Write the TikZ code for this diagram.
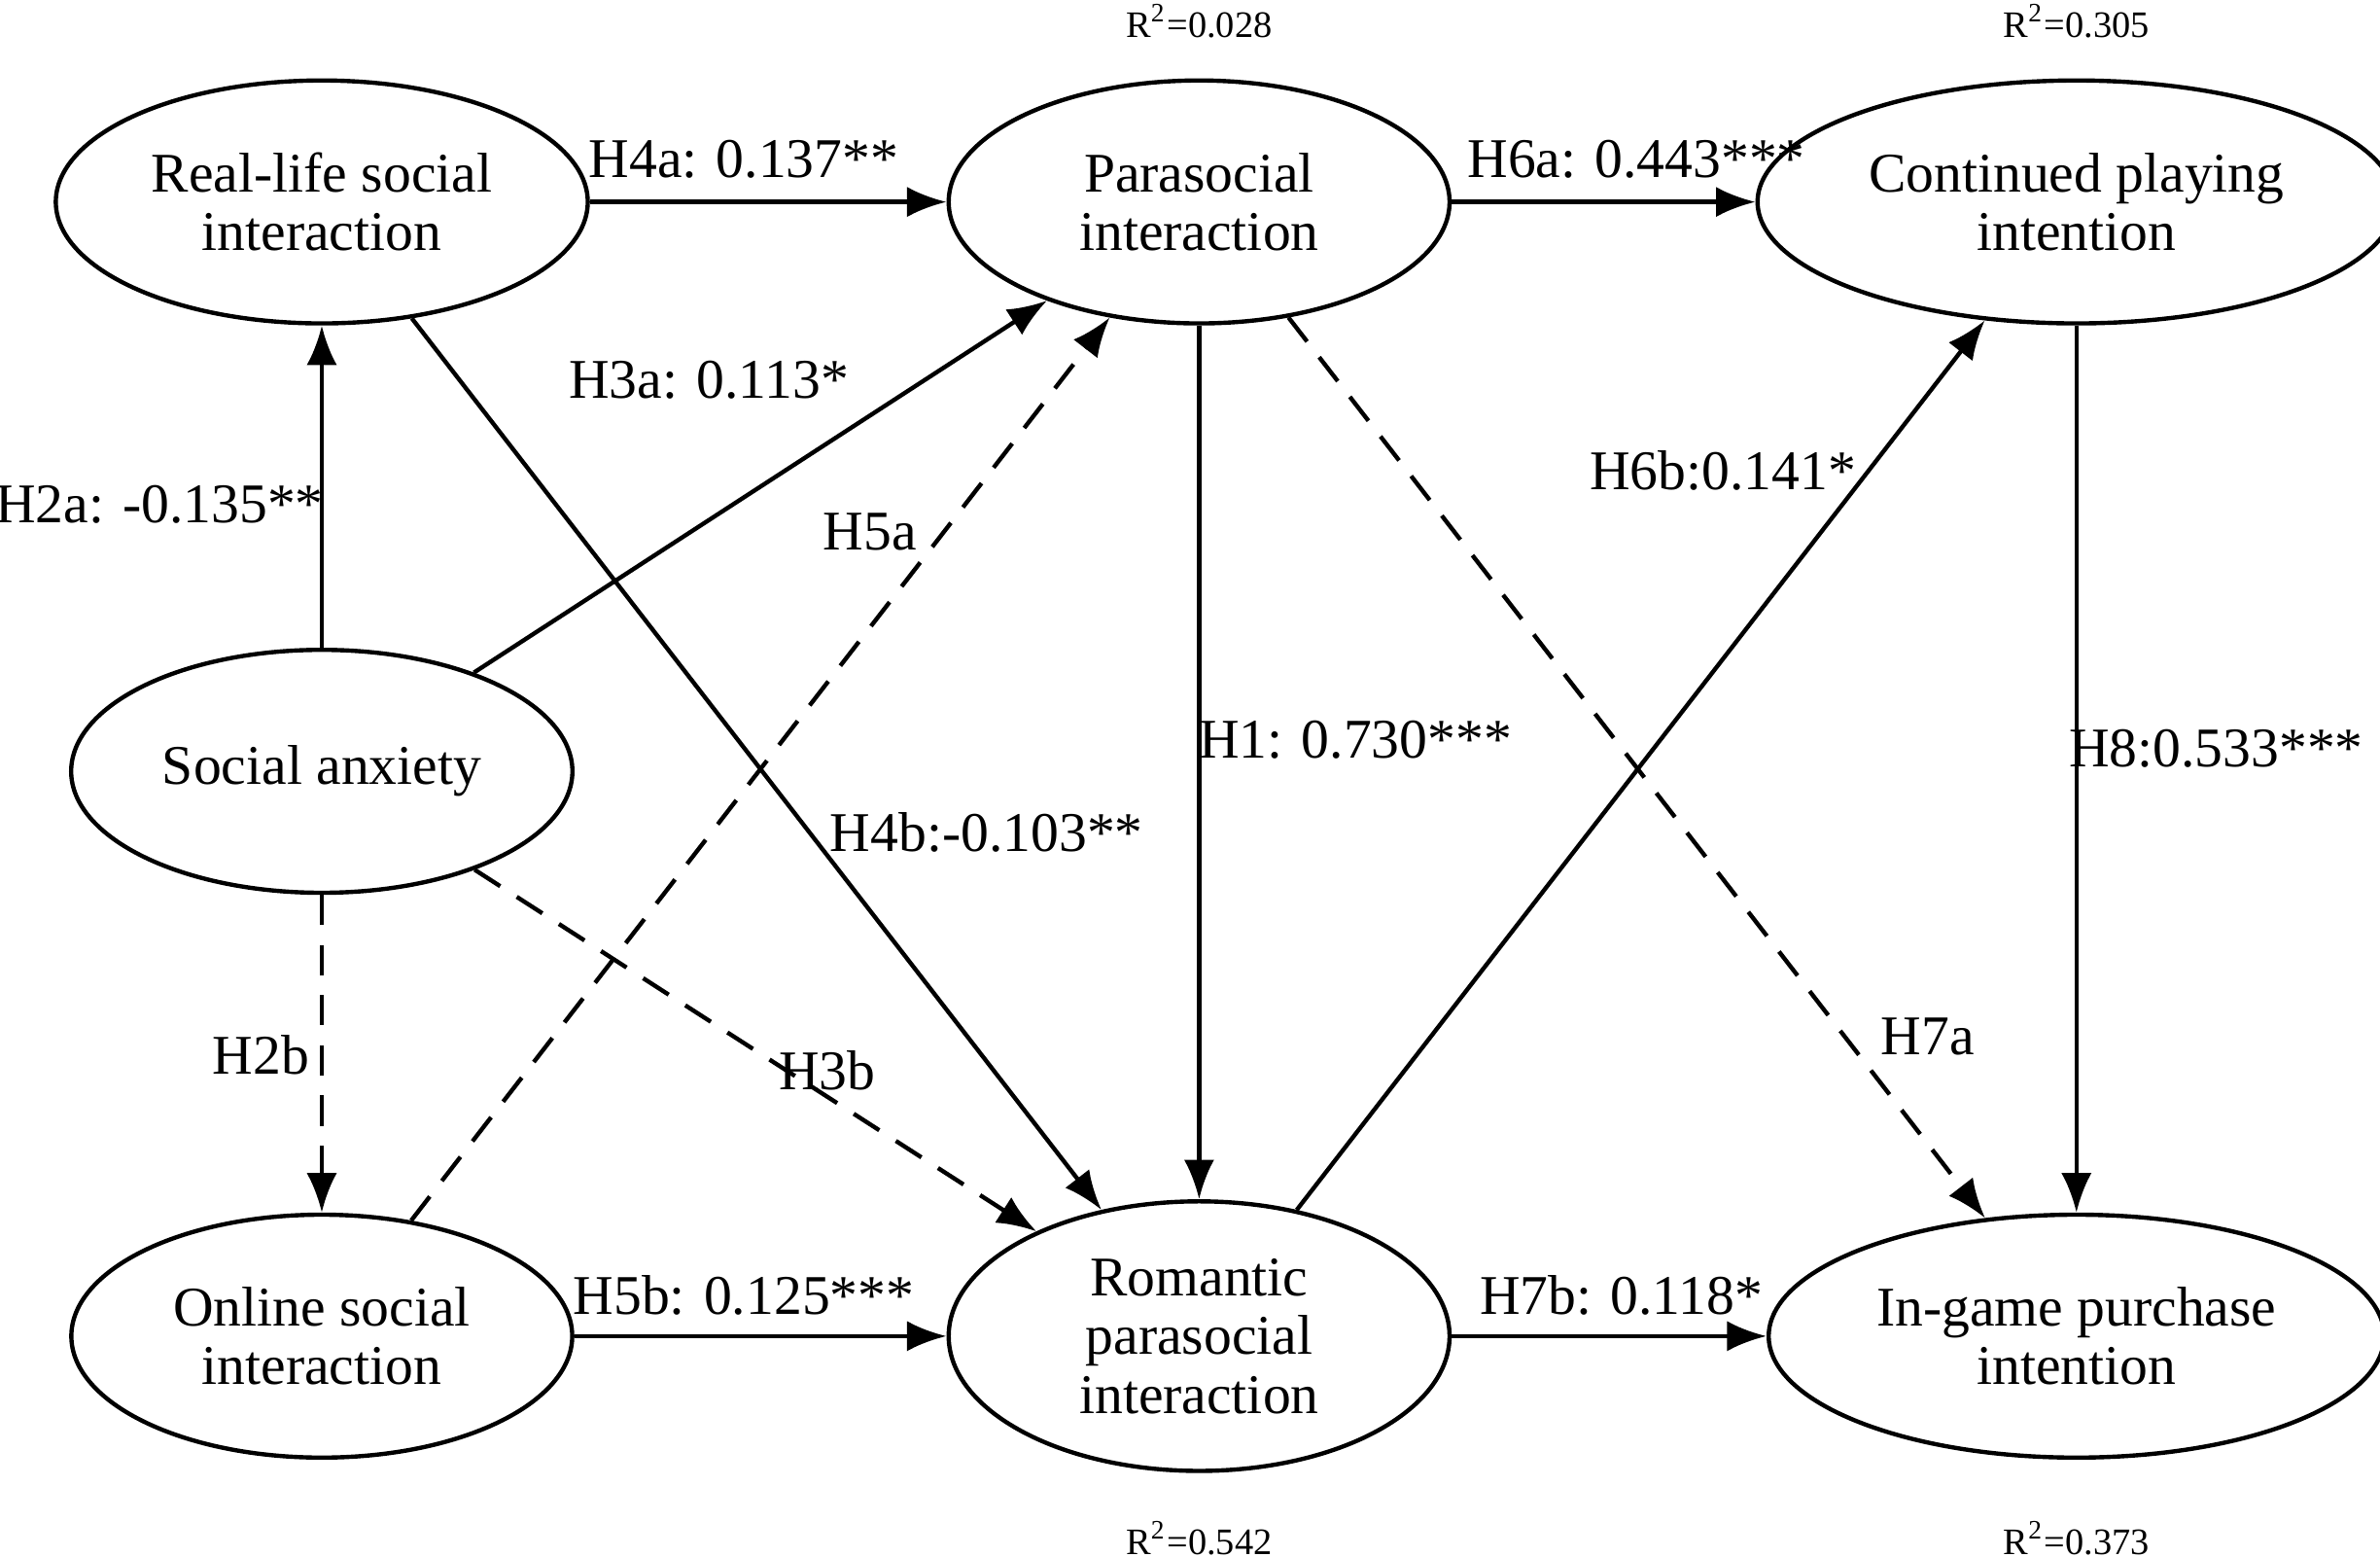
\documentclass[tikz,border=0pt]{standalone}
\usepackage{fontspec}
\setmainfont{Liberation Serif}
\usetikzlibrary{arrows.meta,shapes.geometric}
\tikzstyle{latent}=[ellipse, draw, line width=0.8pt, minimum width=3.3cm, minimum height=1.6cm, align=center, font=\fontsize{10.5}{11}\selectfont]
\tikzstyle{path}=[-{Latex[length=2.6mm,width=2mm]}, line width=0.8pt]
\tikzstyle{ns}=[path, dashed, dash pattern=on 2mm off 1.3mm]
\tikzstyle{lbl}=[font=\fontsize{10.5}{11}\selectfont]
\tikzstyle{rsq}=[font=\fontsize{7}{8}\selectfont]
\begin{document}
\begin{tikzpicture}
  \useasboundingbox (0,0) rectangle (15.68,-10.25);
  \draw (2.12,-1.33) node[latent] (RL) {Real-life social\\interaction};
  \draw (2.12,-5.08) node[latent] (SA) {Social anxiety};
  \draw (2.12,-8.80) node[latent] (OS) {Online social\\interaction};
  \draw (7.90,-1.33) node[latent] (PSI) {Parasocial\\interaction};
  \draw (7.90,-8.80) node[latent] (RPSI) {Romantic\\parasocial\\interaction};
  \draw (13.68,-1.33) node[latent] (CPI) {Continued playing\\intention};
  \draw (13.68,-8.80) node[latent] (IPI) {In-game purchase\\intention};

  \draw[path] (RL) -- (PSI);
  \draw[path] (PSI) -- (CPI);
  \draw[path] (OS) -- (RPSI);
  \draw[path] (RPSI) -- (IPI);
  \draw[path] (SA) -- (RL);
  \draw[path] (SA) -- (PSI);
  \draw[path] (RL) -- (RPSI);
  \draw[path] (PSI) -- (RPSI);
  \draw[path] (RPSI) -- (CPI);
  \draw[path] (CPI) -- (IPI);
  \draw[ns] (SA) -- (OS);
  \draw[ns] (SA) -- (RPSI);
  \draw[ns] (OS) -- (PSI);
  \draw[ns] (PSI) -- (IPI);

  %% Path labels
  \draw (4.90,-1.05) node[lbl] {H4a: 0.137**};
  \draw (10.78,-1.05) node[lbl] {H6a: 0.443***};
  \draw (4.67,-2.50) node[lbl] {H3a: 0.113*};
  \draw (1.05,-3.32) node[lbl] {H2a: -0.135**};
  \draw (5.73,-3.50) node[lbl] {H5a};
  \draw (11.35,-3.10) node[lbl] {H6b:0.141*};
  \draw (8.93,-4.87) node[lbl] {H1: 0.730***};
  \draw (14.60,-4.93) node[lbl] {H8:0.533***};
  \draw (6.50,-5.48) node[lbl] {H4b:-0.103**};
  \draw (1.72,-6.95) node[lbl] {H2b};
  \draw (5.45,-7.05) node[lbl] {H3b};
  \draw (12.70,-6.83) node[lbl] {H7a};
  \draw (4.90,-8.53) node[lbl] {H5b: 0.125***};
  \draw (10.68,-8.53) node[lbl] {H7b: 0.118*};

  %% R squared
  \draw (7.90,-0.14) node[rsq] {R\textsuperscript{2}=0.028};
  \draw (13.68,-0.14) node[rsq] {R\textsuperscript{2}=0.305};
  \draw (7.90,-10.13) node[rsq] {R\textsuperscript{2}=0.542};
  \draw (13.68,-10.13) node[rsq] {R\textsuperscript{2}=0.373};
\end{tikzpicture}
\end{document}
